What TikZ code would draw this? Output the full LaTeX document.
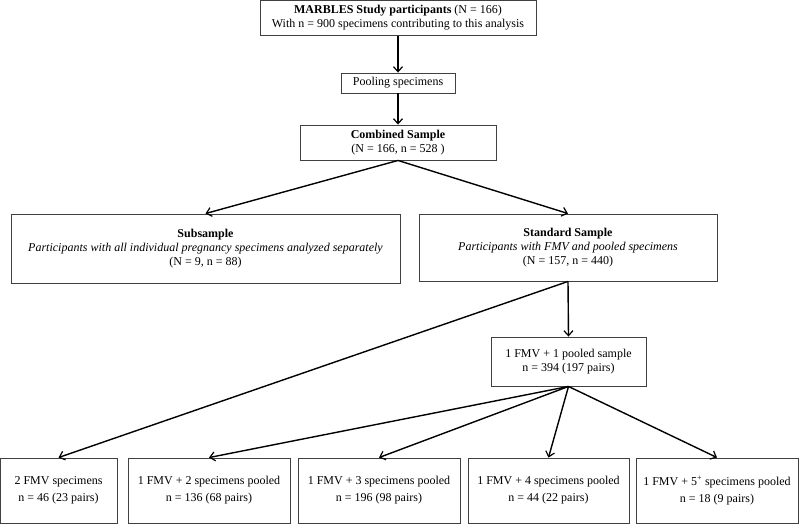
\documentclass[tikz,border=0pt]{standalone}
\usepackage{fontspec}
\setmainfont{Liberation Serif}
\usetikzlibrary{arrows.meta}
\tikzset{
    flow-box/.style = {draw=black!75, fill=white, line width=0.9pt, rectangle, inner sep=0pt, align=center, font=\fontsize{12}{14}\selectfont},
    flow-box-low/.style = {flow-box, minimum width=162pt, minimum height=65pt, font=\fontsize{12}{17}\selectfont, execute at begin node=\rule{0pt}{16pt}},
    flow-arrow/.style = {line width=1.4pt, -{Straight Barb[length=5pt,width=9pt,line width=1.2pt]}},
}
\begin{document}
\begin{tikzpicture}[x=1pt,y=-1pt]
\useasboundingbox (0,0) rectangle (800,525);
\node[flow-box, minimum width=276pt, minimum height=35pt] (study) at (398,18) {\textbf{MARBLES Study participants} (N = 166)\\With n = 900 specimens contributing to this analysis};
\node[flow-box, minimum width=114pt, minimum height=20pt] (pool) at (398,83) {Pooling specimens};
\node[flow-box, minimum width=196pt, minimum height=35pt] (combined) at (398,142.5) {\textbf{Combined Sample}\\(N = 166, n = 528 )};
\node[flow-box, minimum width=389pt, minimum height=69pt] (subsample) at (205.5,248.5) {\textbf{Subsample}\\\textit{Participants with all individual pregnancy specimens analyzed separately}\\(N = 9, n = 88)};
\node[flow-box, minimum width=298pt, minimum height=67pt] (standard) at (568,247.5) {\textbf{Standard Sample}\\\textit{Participants with FMV and pooled specimens}\\(N = 157, n = 440)};
\node[flow-box, minimum width=155pt, minimum height=49pt] (onepooled) at (568.5,361.5) {1 FMV + 1 pooled sample\\n = 394 (197 pairs)};
\node[flow-box-low, minimum width=117pt] (fmv2) at (58.5,490.5) {2 FMV specimens\\n = 46 (23 pairs)};
\node[flow-box-low] (pool2) at (209,490.5) {1 FMV + 2 specimens pooled\\n = 136 (68 pairs)};
\node[flow-box-low] (pool3) at (379,490.5) {1 FMV + 3 specimens pooled\\n = 196 (98 pairs)};
\node[flow-box-low, minimum width=161pt] (pool4) at (548.5,490.5) {1 FMV + 4 specimens pooled\\n = 44 (22 pairs)};
\node[flow-box-low] (pool5) at (717,490.5) {1 FMV + 5\textsuperscript{+} specimens pooled\\n = 18 (9 pairs)};

\draw[flow-arrow] (study.south) -- (pool.north);
\draw[flow-arrow] (pool.south) -- (combined.north);
\draw[flow-arrow] (combined.south) -- (subsample.north);
\draw[flow-arrow] (combined.south) -- (standard.north);
\draw[flow-arrow] (standard.south) -- (onepooled.north);
\draw[flow-arrow] (standard.south) -- (fmv2.north);
\foreach \b in {pool2,pool3,pool4,pool5}
    \draw[flow-arrow] (onepooled.south) -- (\b.north);
\end{tikzpicture}
\end{document}
